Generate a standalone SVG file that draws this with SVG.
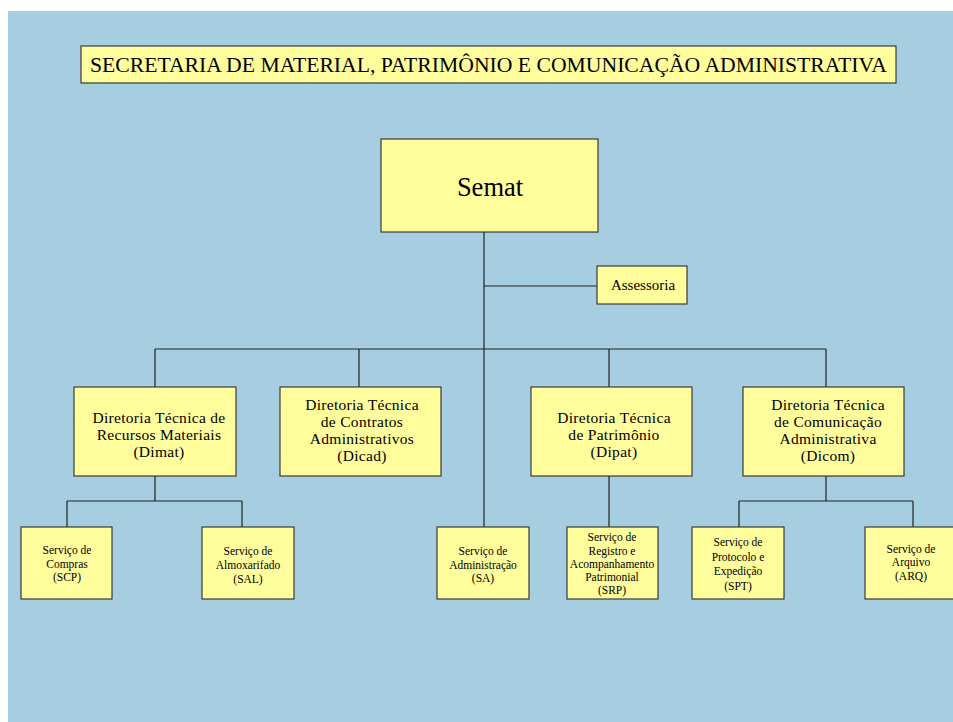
<svg xmlns="http://www.w3.org/2000/svg" width="953" height="722" viewBox="0 0 953 722">
<style>
.box{fill:#FFFD9C;stroke:#3a3a3a;stroke-width:1.2}
.ln{stroke:#222;stroke-width:1.2;fill:none}
text{font-family:"Liberation Serif","Times New Roman",serif;fill:#000;text-anchor:middle}
.t{font-size:22px}
.big{font-size:26.5px}
.mid{font-size:15.5px;letter-spacing:0.3px}
.as{font-size:15px}
.sm{font-size:11.5px}
</style>
<rect x="0" y="0" width="953" height="722" fill="#ffffff"/>
<rect x="8" y="11" width="945" height="711" fill="#A6CEE0"/>
<g id="connectors">
<path class="ln" d="M484 232V527M484 286H597M155 349H826M155 349V387M359 349V387M609 349V387M826 349V387M155 476V501M67 501H242M67 501V527M242 501V527M609 476V527M826 476V501M739 501H913M739 501V527M913 501V527"/>
</g>
<g id="title"><rect class="box" x="81" y="46" width="815" height="37"/><text class="t" x="488.5" y="72" textLength="797" lengthAdjust="spacingAndGlyphs">SECRETARIA DE MATERIAL, PATRIMÔNIO E COMUNICAÇÃO ADMINISTRATIVA</text></g>
<g id="semat"><rect class="box" x="381" y="139" width="217" height="93"/><text class="big" x="490" y="196">Semat</text></g>
<g id="assessoria"><rect class="box" x="597" y="266" width="90" height="38"/><text class="as" x="643" y="290">Assessoria</text></g>
<g id="dimat"><rect class="box" x="74" y="387" width="162" height="89"/><text class="mid" x="159" y="423">Diretoria Técnica de</text><text class="mid" x="159" y="440">Recursos  Materiais</text><text class="mid" x="159" y="457">(Dimat)</text></g>
<g id="dicad"><rect class="box" x="280" y="387" width="161" height="89"/><text class="mid" x="362" y="410">Diretoria Técnica</text><text class="mid" x="362" y="427">de Contratos</text><text class="mid" x="362" y="444">Administrativos</text><text class="mid" x="362" y="461">(Dicad)</text></g>
<g id="dipat"><rect class="box" x="531" y="387" width="161" height="89"/><text class="mid" x="614" y="423">Diretoria Técnica</text><text class="mid" x="614" y="440">de Patrimônio</text><text class="mid" x="614" y="457">(Dipat)</text></g>
<g id="dicom"><rect class="box" x="743" y="387" width="161" height="89"/><text class="mid" x="828" y="410">Diretoria Técnica</text><text class="mid" x="828" y="427">de Comunicação</text><text class="mid" x="828" y="444">Administrativa</text><text class="mid" x="828" y="461">(Dicom)</text></g>
<g id="scp"><rect class="box" x="21" y="527" width="91" height="72"/><text class="sm" x="67" y="554">Serviço de</text><text class="sm" x="67" y="568">Compras</text><text class="sm" x="67" y="581">(SCP)</text></g>
<g id="sal"><rect class="box" x="202" y="527" width="92" height="72"/><text class="sm" x="248" y="555">Serviço  de</text><text class="sm" x="248" y="569">Almoxarifado</text><text class="sm" x="248" y="583">(SAL)</text></g>
<g id="sa"><rect class="box" x="437" y="527" width="92" height="72"/><text class="sm" x="483" y="555">Serviço de</text><text class="sm" x="483" y="569">Administração</text><text class="sm" x="483" y="582">(SA)</text></g>
<g id="srp"><rect class="box" x="567" y="527" width="91" height="72"/><text class="sm" x="612" y="541">Serviço de</text><text class="sm" x="612" y="555">Registro e</text><text class="sm" x="612" y="568">Acompanhamento</text><text class="sm" x="612" y="581">Patrimonial</text><text class="sm" x="612" y="594">(SRP)</text></g>
<g id="spt"><rect class="box" x="692" y="527" width="92" height="72"/><text class="sm" x="738" y="546">Serviço de</text><text class="sm" x="738" y="561">Protocolo e</text><text class="sm" x="738" y="575">Expedição</text><text class="sm" x="738" y="590">(SPT)</text></g>
<g id="arq"><rect class="box" x="865" y="527" width="92" height="72"/><text class="sm" x="911" y="553">Serviço  de</text><text class="sm" x="911" y="566">Arquivo</text><text class="sm" x="911" y="580">(ARQ)</text></g>
</svg>
